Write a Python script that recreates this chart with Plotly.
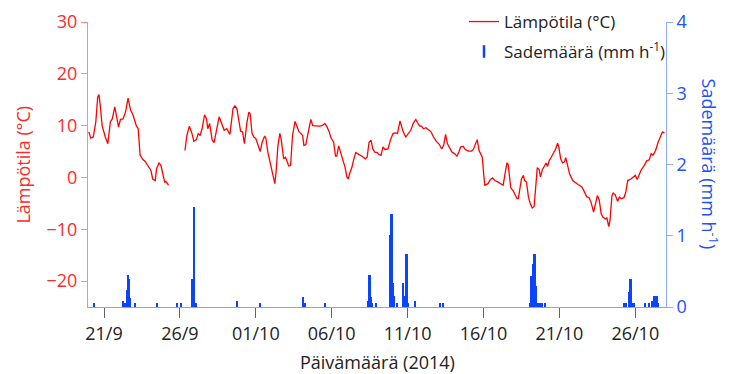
import plotly.graph_objects as go
import pandas as pd

# ---------------- data ----------------
temp_time = [
    "09-20 00", "09-20 03", "09-20 07", "09-20 11", "09-20 14", "09-20 16", "09-20 18", "09-20 21",
    "09-21 02", "09-21 06", "09-21 10", "09-21 13", "09-21 17", "09-21 21", "09-21 23",
    "09-22 02", "09-22 06", "09-22 10", "09-22 14", "09-22 18", "09-22 22",
    "09-23 03", "09-23 06", "09-23 09", "09-23 13", "09-23 17", "09-23 22",
    "09-24 02", "09-24 05", "09-24 09", "09-24 11", "09-24 15", "09-24 18", "09-24 21",
    "09-25 00", "09-25 02", "09-25 06",
    "09-25 18",
    "09-26 08", "09-26 11", "09-26 15", "09-26 19", "09-26 22",
    "09-27 02", "09-27 05", "09-27 08", "09-27 11", "09-27 15", "09-27 18", "09-27 20", "09-27 23",
    "09-28 03", "09-28 06", "09-28 10", "09-28 14", "09-28 18", "09-28 22",
    "09-29 02", "09-29 07", "09-29 12", "09-29 15", "09-29 18", "09-29 21",
    "09-30 00", "09-30 03", "09-30 06", "09-30 10", "09-30 13", "09-30 15", "09-30 18", "09-30 21",
    "10-01 00", "10-01 07", "10-01 10", "10-01 14", "10-01 16", "10-01 19", "10-01 22",
    "10-02 02", "10-02 04", "10-02 06", "10-02 08", "10-02 11", "10-02 14", "10-02 16", "10-02 20", "10-02 23",
    "10-03 01", "10-03 04", "10-03 07", "10-03 10", "10-03 14", "10-03 17", "10-03 20", "10-03 23",
    "10-04 02", "10-04 04", "10-04 07", "10-04 11", "10-04 15", "10-04 18", "10-04 22",
    "10-05 04", "10-05 09", "10-05 13", "10-05 16", "10-05 20", "10-05 23",
    "10-06 03", "10-06 06", "10-06 08", "10-06 11", "10-06 14", "10-06 17", "10-06 21",
    "10-07 00", "10-07 02", "10-07 05", "10-07 08", "10-07 11", "10-07 14", "10-07 19",
    "10-08 00", "10-08 05", "10-08 08", "10-08 11", "10-08 14", "10-08 17", "10-08 20",
    "10-09 00", "10-09 03", "10-09 06", "10-09 09", "10-09 12", "10-09 17", "10-09 21",
    "10-10 01", "10-10 05", "10-10 08", "10-10 12", "10-10 17", "10-10 21",
    "10-11 01", "10-11 05", "10-11 09", "10-11 13", "10-11 16", "10-11 19", "10-11 22",
    "10-12 01", "10-12 05", "10-12 09", "10-12 13", "10-12 17", "10-12 21",
    "10-13 02", "10-13 06", "10-13 09", "10-13 12", "10-13 15", "10-13 19", "10-13 22",
    "10-14 02", "10-14 06", "10-14 09", "10-14 12", "10-14 16", "10-14 19",
    "10-15 00", "10-15 05", "10-15 08", "10-15 11", "10-15 14", "10-15 17", "10-15 20", "10-15 22",
    "10-16 00", "10-16 02", "10-16 07", "10-16 11", "10-16 14", "10-16 18", "10-16 23",
    "10-17 05", "10-17 07", "10-17 10", "10-17 13", "10-17 15", "10-17 17", "10-17 19", "10-17 23",
    "10-18 02", "10-18 05", "10-18 07", "10-18 09", "10-18 12", "10-18 15", "10-18 17", "10-18 20", "10-18 23",
    "10-19 02", "10-19 05", "10-19 08", "10-19 11", "10-19 13", "10-19 16", "10-19 18", "10-19 21",
    "10-20 00", "10-20 03", "10-20 05", "10-20 08", "10-20 11", "10-20 15", "10-20 18", "10-20 21", "10-20 23",
    "10-21 02", "10-21 05", "10-21 08", "10-21 10", "10-21 13", "10-21 16", "10-21 21",
    "10-22 02", "10-22 06", "10-22 12", "10-22 15", "10-22 19", "10-22 23",
    "10-23 02", "10-23 06", "10-23 09", "10-23 12", "10-23 15", "10-23 18", "10-23 21",
    "10-24 01", "10-24 03", "10-24 06", "10-24 08", "10-24 11", "10-24 13", "10-24 16", "10-24 20", "10-24 23",
    "10-25 02", "10-25 06", "10-25 09", "10-25 12", "10-25 17", "10-25 21",
    "10-26 00", "10-26 03", "10-26 06", "10-26 09", "10-26 14", "10-26 18", "10-26 22",
    "10-27 01", "10-27 04", "10-27 08", "10-27 12", "10-27 15", "10-27 19", "10-27 22",
]
temp_value = [
    8.8, 7.6, 7.8, 10.7, 15.5, 16.0, 13.9, 10.0,
    7.8, 6.5, 10.7, 11.3, 13.6, 11.3, 9.7,
    11.2, 11.3, 12.6, 15.3, 13.0, 12.0,
    10.0, 9.4, 4.3, 3.5, 3.1, 2.0,
    1.4, -0.3, -0.6, 1.7, 2.8, 2.3, 0.7,
    -0.9, -0.8, -1.5,
    None,
    5.2, 8.1, 9.9, 8.5, 7.0,
    7.3, 8.5, 8.1, 9.4, 12.1, 11.3, 9.4, 10.4,
    7.2, 6.7, 9.4, 11.7, 10.4, 9.1,
    9.4, 8.3, 13.3, 13.8, 13.3, 10.7,
    8.9, 8.8, 6.5, 10.7, 12.6, 12.3, 8.5, 7.8,
    7.5, 5.0, 6.8, 8.0, 7.5, 4.9, 3.0,
    0.4, -0.1, -1.2, 1.0, 6.2, 8.5, 7.5, 3.6, 3.9,
    3.3, 2.2, 2.3, 8.1, 10.8, 10.0, 8.9, 8.5,
    8.1, 6.2, 6.3, 8.8, 11.2, 10.0, 9.9,
    9.9, 10.0, 10.4, 9.9, 8.8, 7.6,
    6.8, 4.1, 4.1, 6.1, 4.9, 3.9, 2.0,
    0.1, -0.3, 1.0, 2.0, 3.6, 4.8, 4.4,
    4.1, 3.6, 3.9, 6.8, 7.2, 5.5, 4.9,
    4.8, 4.4, 4.3, 5.9, 5.4, 5.5, 7.3,
    8.5, 8.6, 8.5, 10.9, 8.8, 7.8,
    8.5, 9.1, 10.5, 11.2, 10.5, 9.9, 9.9,
    9.4, 9.6, 9.2, 8.8, 7.8, 7.0,
    6.4, 5.5, 6.2, 8.3, 6.5, 5.7, 4.9,
    4.6, 4.1, 4.9, 5.9, 6.0, 5.4,
    5.1, 5.1, 5.4, 6.5, 7.3, 5.2, 4.3, 3.9,
    1.0, -1.5, -1.2, -0.4, -0.1, -0.6, -0.9,
    -1.4, -1.5, 0.7, 2.8, 2.5, 0.4, -2.0, -2.6,
    -3.5, -4.1, -4.1, -2.5, -0.3, 0.4, -0.6, -0.9, -3.8,
    -5.1, -5.9, -5.6, -0.3, 1.9, 1.5, 0.1, 1.5,
    2.3, 2.8, 2.1, 3.3, 3.9, 4.9, 5.5, 6.6, 5.9,
    3.6, 2.8, 3.0, 3.8, 2.3, 0.7, -0.6,
    -1.1, -1.4, -1.9, -2.8, -3.7, -3.9,
    -4.8, -6.7, -4.8, -3.5, -4.4, -7.0, -7.7,
    -8.0, -7.8, -9.5, -8.3, -3.5, -3.0, -3.3, -4.6, -3.8,
    -4.1, -3.9, -2.8, -0.6, -0.3, 0.1,
    0.4, -0.4, 0.4, 1.4, 2.3, 3.2, 3.4,
    4.6, 4.3, 5.2, 6.8, 7.8, 8.8, 8.6,
]

rain_time = [
    "09-20 09", "09-22 06", "09-22 08", "09-22 10", "09-22 12", "09-22 13", "09-22 14",
    "09-22 15", "09-22 16", "09-22 17", "09-22 18", "09-23 01", "09-24 12", "09-25 19",
    "09-26 02", "09-26 19", "09-26 20", "09-26 21", "09-26 22", "09-26 23", "09-27 00",
    "09-27 01", "09-29 19", "10-01 07", "10-04 03", "10-04 06", "10-05 14",
    "10-08 10", "10-08 12", "10-08 13", "10-08 14", "10-08 15", "10-08 16", "10-08 22",
    "10-09 20", "10-09 21", "10-09 22", "10-09 23", "10-10 00", "10-10 01", "10-10 02",
    "10-10 07", "10-10 17", "10-10 18", "10-10 19", "10-10 21", "10-10 22", "10-10 23",
    "10-11 00", "10-11 01", "10-11 12", "10-13 03", "10-13 08",
    "10-19 01", "10-19 02", "10-19 03", "10-19 04", "10-19 05", "10-19 06", "10-19 07",
    "10-19 08", "10-19 09", "10-19 10", "10-19 11", "10-19 12", "10-19 13", "10-19 14",
    "10-19 15", "10-19 16", "10-19 17", "10-19 18", "10-19 19", "10-19 20", "10-20 02",
    "10-25 07", "10-25 09", "10-25 14", "10-25 15", "10-25 16", "10-25 17", "10-25 18",
    "10-25 19", "10-25 20", "10-25 21", "10-25 22", "10-26 16", "10-26 22",
    "10-27 03", "10-27 04", "10-27 06", "10-27 07", "10-27 08", "10-27 09", "10-27 10",
    "10-27 11", "10-27 12",
]
rain_value = [
    0.05, 0.08, 0.05, 0.05, 0.24, 0.24, 0.45,
    0.40, 0.40, 0.13, 0.13, 0.05, 0.05, 0.05,
    0.05, 0.40, 0.40, 0.40, 1.41, 1.41, 0.05,
    0.05, 0.08, 0.05, 0.14, 0.05, 0.05,
    0.08, 0.45, 0.45, 0.14, 0.05, 0.05, 0.05,
    0.19, 1.01, 1.31, 1.31, 0.34, 0.34, 0.15,
    0.05, 0.34, 0.15, 0.15, 0.30, 0.75, 0.75,
    0.05, 0.05, 0.08, 0.05, 0.05,
    0.05, 0.05, 0.24, 0.44, 0.44, 0.60, 0.60,
    0.75, 0.75, 0.30, 0.30, 0.05, 0.05, 0.05,
    0.05, 0.05, 0.05, 0.05, 0.05, 0.05, 0.05,
    0.05, 0.05, 0.21, 0.21, 0.40, 0.40, 0.21,
    0.05, 0.05, 0.05, 0.05, 0.05, 0.05,
    0.08, 0.08, 0.15, 0.15, 0.15, 0.15, 0.15,
    0.15, 0.05,
]

x_tick_dates = ["2014-09-21", "2014-09-26", "2014-10-01", "2014-10-06",
                "2014-10-11", "2014-10-16", "2014-10-21", "2014-10-26"]
x_tick_text = ["21/9", "26/9", "01/10", "06/10", "11/10", "16/10", "21/10", "26/10"]
y_temp_ticks = [-20, -10, 0, 10, 20, 30]
y_rain_ticks = [0, 1, 2, 3, 4]

temp_label = "Lämpötila (°C)"
rain_label = "Sademäärä (mm h<sup>-1</sup>)"
x_label = "Päivämäärä (2014)"

# ---------------- figure ----------------
tt = pd.to_datetime(["2014-" + s + ":00" for s in temp_time])
rt = pd.to_datetime(["2014-" + s + ":00" for s in rain_time])

RED = "#ff0000"
BLUE = "#0a44ff"
FONT = "Open Sans"
FS = 18
LFS = 17

fig = go.Figure()
fig.add_trace(go.Bar(
    x=rt, y=rain_value, yaxis="y2", width=2.2 * 3600 * 1000,
    marker=dict(color=BLUE, line=dict(width=0)), showlegend=False,
))
fig.add_trace(go.Scatter(
    x=tt, y=temp_value, mode="lines", connectgaps=False,
    line=dict(color=RED, width=1.3), name=temp_label, legend="legend",
))
fig.add_trace(go.Scatter(
    x=[None], y=[None], mode="markers", yaxis="y2", name=rain_label, legend="legend2",
    marker=dict(symbol="line-ns-open", size=9, color=BLUE, line=dict(color=BLUE, width=2.5)),
))

fig.update_layout(
    width=731, height=374,
    margin=dict(l=88, r=65, t=22, b=67, autoexpand=False),
    paper_bgcolor="white", plot_bgcolor="white",
    font=dict(family=FONT, size=FS, color="#222222"),
    bargap=0,
    xaxis=dict(
        type="date",
        range=["2014-09-19 22:40", "2014-10-28 00:30"],
        tickvals=x_tick_dates, ticktext=x_tick_text,
        showgrid=False, zeroline=False,
        showline=True, linecolor="#9aa3c4", linewidth=1,
        ticks="outside", ticklen=10, tickcolor="#666666", tickwidth=1,
        tickfont=dict(size=FS, color="#222222"),
    ),
    yaxis=dict(
        range=[-25, 30], tickvals=y_temp_ticks,
        showgrid=False, zeroline=False,
        showline=True, linecolor="#ff8a8a", linewidth=1,
        ticks="outside", ticklen=6, tickcolor="#ff8a8a",
        tickfont=dict(size=FS, color="#ff2a2a"),
    ),
    yaxis2=dict(
        range=[0, 4], tickvals=y_rain_ticks, overlaying="y", side="right",
        showgrid=False, zeroline=False,
        showline=True, linecolor="#8fa9ff", linewidth=1,
        ticks="outside", ticklen=6, tickcolor="#8fa9ff",
        tickfont=dict(size=FS, color="#2050ff"),
    ),
    legend=dict(x=0.6505, y=1.0, xanchor="left", yanchor="middle",
                bgcolor="rgba(0,0,0,0)", font=dict(size=LFS, color="#222222")),
    legend2=dict(x=0.6505, y=0.895, xanchor="left", yanchor="middle",
                 bgcolor="rgba(0,0,0,0)", font=dict(size=LFS, color="#222222")),
    annotations=[
        dict(text=temp_label, xref="paper", yref="paper", x=-0.114, y=0.5,
             textangle=-90, showarrow=False, xanchor="center", yanchor="middle",
             font=dict(size=FS, color="#ff2a2a")),
        dict(text=rain_label, xref="paper", yref="paper", x=1.076, y=0.5,
             textangle=90, showarrow=False, xanchor="center", yanchor="middle",
             font=dict(size=FS, color="#2050ff")),
        dict(text=x_label, xref="paper", yref="paper", x=0.5, y=-0.193,
             showarrow=False, xanchor="center", yanchor="middle",
             font=dict(size=FS, color="#222222")),
    ],
)

fig.write_html("out.html")
